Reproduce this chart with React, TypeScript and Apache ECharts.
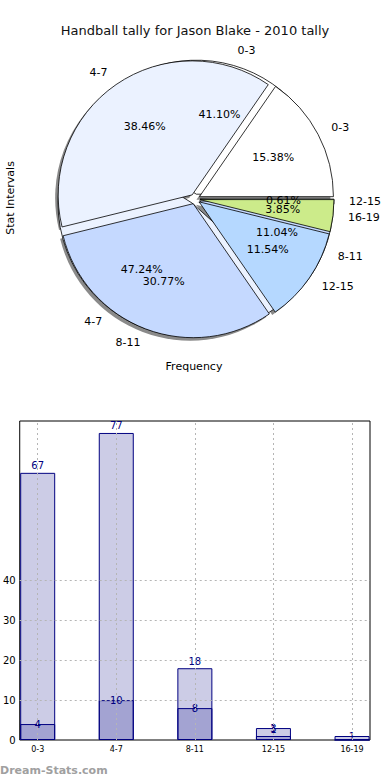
import React, { useEffect, useRef } from 'react';
import * as echarts from 'echarts';

const categories = ['0-3', '4-7', '8-11', '12-15', '16-19'];
const seriesA = [67, 77, 18, 1, 0];
const seriesB = [4, 10, 8, 3, 1];
const pieColors = ['#FFFFFF', '#EBF2FF', '#C5D9FF', '#B5D8FF', '#CCEB8A'];
const yTickLabels = [0, 10, 20, 30, 40];
const titleText = 'Handball tally for Jason Blake - 2010 tally';
const pieYLabel = 'Stat Intervals';
const pieXLabel = 'Frequency';
const watermark = 'Dream-Stats.com';

export default function App() {
  const ref = useRef<HTMLDivElement>(null);
  useEffect(() => {
    document.body.style.margin = '0';
    const chart = echarts.init(ref.current as HTMLDivElement, null, { renderer: 'svg' });
    const font = 'DejaVu Sans';
    const CX = 195;
    const CY = 199;
    const R = 134;
    const OFF = 5;

    const pieItems = (vals: number[], color?: string) =>
      vals
        .map((v, i) => ({ v, i }))
        .filter((d) => d.v > 0)
        .map((d) => ({
          name: categories[d.i],
          value: d.v,
          selected: true,
          itemStyle: { color: color || pieColors[d.i] },
        }));
    const pctFormatter = (vals: number[]) => {
      const s = vals.reduce((a, b) => a + b, 0);
      return (p: any) => ((p.value / s) * 100).toFixed(2) + '%';
    };

    const basePie: any = {
      type: 'pie',
      center: [CX, CY],
      radius: [0, R],
      startAngle: 0,
      clockwise: false,
      selectedMode: 'multiple',
      selectedOffset: OFF,
      avoidLabelOverlap: false,
      minShowLabelAngle: 0,
      labelLayout: { hideOverlap: false },
      silent: true,
      emphasis: { disabled: true },
      labelLine: { show: false, length: 15, length2: 0 },
    };

    const outerLabel = {
      show: true,
      position: 'outside',
      formatter: '{b}',
      fontSize: 11,
      fontFamily: font,
      color: '#000',
      distanceToLabelLine: 0,
    };
    const innerLabel = (vals: number[]) => ({
      show: true,
      position: 'inside',
      formatter: pctFormatter(vals),
      fontSize: 11,
      fontFamily: font,
      color: '#000',
      overflow: 'none',
    });
    const pieBorder = { borderColor: '#000', borderWidth: 0.8 };
    const clearItem = { color: 'rgba(0,0,0,0)', borderWidth: 0 };

    const option: any = {
      animation: false,
      backgroundColor: '#fff',
      grid: {
        left: 19,
        right: 20,
        top: 421,
        bottom: 40,
        show: true,
        borderColor: '#000',
        borderWidth: 1,
        backgroundColor: 'rgba(0,0,0,0)',
      },
      xAxis: {
        type: 'value',
        min: -0.2286,
        max: 4.2286,
        axisLabel: {
          formatter: (v: number) => (Number.isInteger(v) && categories[v] ? categories[v] : ''),
          fontSize: 8,
          fontFamily: font,
          color: '#000',
          margin: 5,
        },
        axisLine: { show: false },
        axisTick: { show: false },
        splitLine: { show: false },
      },
      yAxis: {
        type: 'value',
        min: 0,
        max: 80,
        interval: 10,
        axisLabel: {
          formatter: (v: number) => (yTickLabels.includes(v) ? String(v) : ''),
          fontSize: 10,
          fontFamily: font,
          color: '#000',
          margin: 4,
        },
        axisLine: { show: false },
        axisTick: { show: false },
        splitLine: { show: false },
      },
      graphic: [
        {
          type: 'text',
          x: 195,
          y: 30,
          style: { text: titleText, fontSize: 13, fontFamily: font, fill: '#111', textAlign: 'center', textVerticalAlign: 'middle' },
        },
        {
          type: 'text',
          x: 10,
          y: 198,
          rotation: Math.PI / 2,
          style: { text: pieYLabel, fontSize: 11, fontFamily: font, fill: '#000', textAlign: 'center', textVerticalAlign: 'middle' },
        },
        {
          type: 'text',
          x: 194,
          y: 366,
          style: { text: pieXLabel, fontSize: 11, fontFamily: font, fill: '#000', textAlign: 'center', textVerticalAlign: 'middle' },
        },
        {
          type: 'text',
          x: 0,
          y: 770,
          style: { text: watermark, fontSize: 11, fontWeight: 'bold', fontFamily: font, fill: '#a0a0a0', textAlign: 'left', textVerticalAlign: 'middle' },
        },
      ],
      series: [
        // shadow
        {
          ...basePie,
          center: [CX - 3, CY + 3],
          z: 1,
          label: { show: false },
          itemStyle: { borderWidth: 0 },
          data: pieItems(seriesB, '#8a8a8a'),
        },
        {
          ...basePie,
          z: 2,
          label: outerLabel,
          itemStyle: pieBorder,
          select: { itemStyle: pieBorder },
          data: pieItems(seriesA),
        },
        {
          ...basePie,
          z: 3,
          label: outerLabel,
          itemStyle: pieBorder,
          select: { itemStyle: pieBorder },
          data: pieItems(seriesB),
        },
        {
          ...basePie,
          radius: [0, R * 1.2],
          z: 4,
          label: innerLabel(seriesA),
          itemStyle: clearItem,
          select: { itemStyle: clearItem },
          data: pieItems(seriesA),
        },
        {
          ...basePie,
          radius: [0, R * 1.2],
          z: 5,
          label: innerLabel(seriesB),
          itemStyle: clearItem,
          select: { itemStyle: clearItem },
          data: pieItems(seriesB),
        },
        {
          type: 'bar',
          silent: true,
          data: seriesA.map((v, i) => [i, v]),
          barWidth: 35,
          barGap: '-100%',
          itemStyle: { color: 'rgba(0,0,128,0.2)', borderColor: '#000080', borderWidth: 1 },
          label: {
            show: true,
            position: 'top',
            distance: 2,
            color: '#000080',
            fontSize: 10,
            fontFamily: font,
            formatter: (p: any) => (p.value[1] ? String(p.value[1]) : ''),
          },
        },
        {
          type: 'bar',
          silent: true,
          data: seriesB.map((v, i) => [i, v]),
          barWidth: 35,
          barGap: '-100%',
          itemStyle: { color: 'rgba(0,0,128,0.2)', borderColor: '#000080', borderWidth: 1 },
          label: {
            show: true,
            position: 'top',
            distance: -5,
            color: '#000080',
            fontSize: 10,
            fontFamily: font,
            formatter: (p: any) => (p.value[1] ? String(p.value[1]) : ''),
          },
          markLine: {
            silent: true,
            symbol: 'none',
            label: { show: false },
            lineStyle: { color: '#b5b5b5', type: [2, 3], width: 1 },
            data: [
              ...yTickLabels.filter((v) => v > 0).map((v) => ({ yAxis: v })),
              ...categories.map((_, i) => ({ xAxis: i })),
            ],
          },
        },
      ],
    };
    chart.setOption(option);
    return () => chart.dispose();
  }, []);
  return <div ref={ref} style={{ width: 390, height: 780 }} />;
}
